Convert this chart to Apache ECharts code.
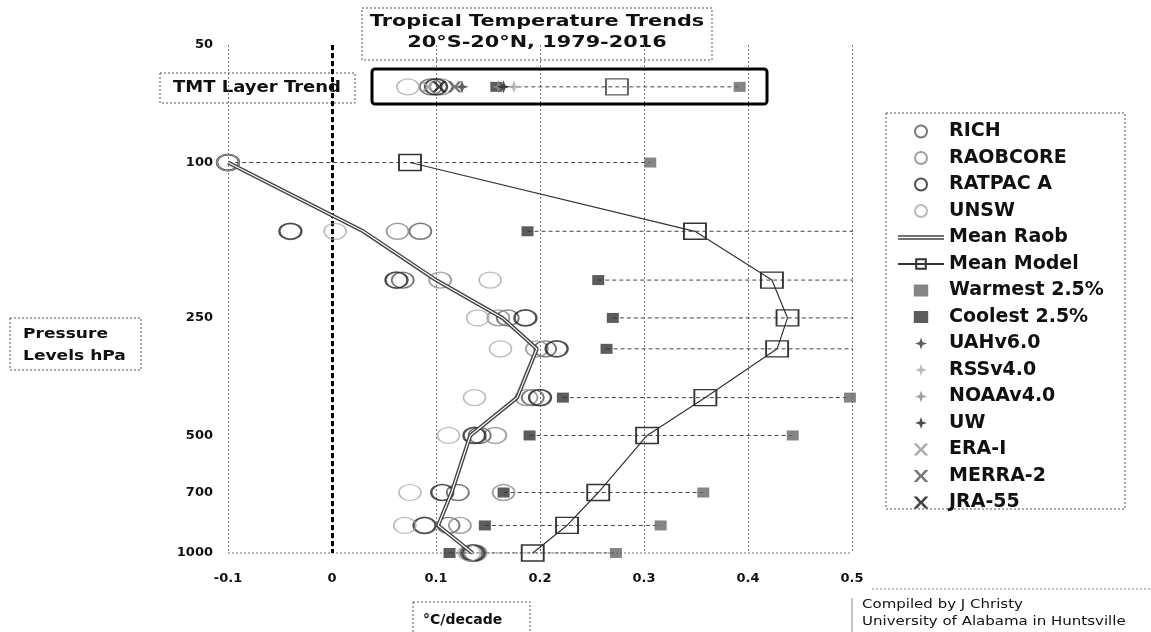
<!DOCTYPE html>
<html><head><meta charset="utf-8">
<script src="https://cdn.jsdelivr.net/npm/echarts@6/dist/echarts.min.js"></script>
<style>html,body{margin:0;padding:0;background:#fff}#c{width:1151px;height:632px}</style>
</head><body><div id="c"></div>
<script>
// ---- data ----
const levels = [100, 150, 200, 250, 300, 400, 500, 700, 850, 1000];
const tmtLevel = 64;
const yTickLabels = [50, 100, 250, 500, 700, 1000];
const rich     = [-0.10, 0.085, 0.068, 0.169, 0.205, 0.193, 0.142, 0.121, 0.112, 0.134];
const raobcore = [-0.10, 0.063, 0.104, 0.160, 0.197, 0.187, 0.157, 0.165, 0.123, 0.138];
const ratpac   = [-0.10, -0.040, 0.062, 0.186, 0.216, 0.200, 0.137, 0.106, 0.089, 0.136];
const unsw     = [-0.10, 0.003, 0.152, 0.140, 0.162, 0.137, 0.112, 0.075, 0.070, 0.132];
const meanRaob  = [-0.10, 0.030, 0.100, 0.164, 0.197, 0.178, 0.133, 0.115, 0.102, 0.135];
const meanModel = [0.075, 0.349, 0.423, 0.438, 0.428, 0.359, 0.303, 0.256, 0.226, 0.193];
const warmest   = [0.306, 0.56, 0.56, 0.56, 0.56, 0.498, 0.443, 0.357, 0.316, 0.273];
const coolest   = [-0.12, 0.188, 0.256, 0.270, 0.264, 0.222, 0.190, 0.165, 0.147, 0.113];
// TMT layer trends
const tmtRich = 0.095, tmtRaobcore = 0.105, tmtRatpac = 0.100, tmtUnsw = 0.073;
const tmtMeanModel = 0.274, tmtWarmest = 0.392, tmtCoolest = 0.158;
const tmtUah = 0.125, tmtRss = 0.175, tmtNoaa = 0.160, tmtUw = 0.165;
const tmtEra = 0.092, tmtMerra = 0.118, tmtJra = 0.103;

const F = 'DejaVu Sans';
const Y = p => Math.log10(p);
const pts = vals => vals.map((v, i) => [v, Y(levels[i])]);
const withTmt = (vals, t) => pts(vals).concat([[t, Y(tmtLevel)]]);
const tmtPt = t => [[t, Y(tmtLevel)]];

const X_PATH = 'path://M0,0 L2.4,0 L5,3 L7.6,0 L10,0 L6.3,4 L10,8 L7.6,8 L5,5 L2.4,8 L0,8 L3.7,4 Z';
const STAR_PATH = 'path://M5,0 L6.3,3.7 L10,5 L6.3,6.3 L5,10 L3.7,6.3 L0,5 L3.7,3.7 Z';
const RECT_PATH = 'path://M0,0 L12,0 L12,10 L0,10 Z';
const DOUBLE_LINE_PATH = 'path://M0,0 L46,0 L46,1.6 L0,1.6 Z M0,3 L46,3 L46,4.6 L0,4.6 Z';

const series = [];
// range dashed lines (coolest to warmest)
levels.forEach((p, i) => {
  series.push({type: 'line', silent: true, symbol: 'none', z: 1,
    data: [[coolest[i], Y(p)], [warmest[i], Y(p)]],
    lineStyle: {color: '#444', width: 1, type: [4, 3]}});
});
series.push({type: 'line', silent: true, symbol: 'none', z: 1,
  data: [[tmtCoolest, Y(tmtLevel)], [tmtWarmest, Y(tmtLevel)]],
  lineStyle: {color: '#444', width: 1, type: [4, 3]}});

const circ = (name, vals, t, col, w) => ({
  name, type: 'scatter', symbol: 'circle', symbolSize: [22, 16], z: 5,
  data: withTmt(vals, t),
  itemStyle: {color: 'rgba(255,255,255,0)', borderColor: col, borderWidth: w}
});
series.push(circ('RICH', rich, tmtRich, '#555', 1.6));
series.push(circ('RAOBCORE', raobcore, tmtRaobcore, '#888', 1.6));
series.push(circ('RATPAC A', ratpac, tmtRatpac, '#222', 2));
series.push(circ('UNSW', unsw, tmtUnsw, '#aaa', 1.4));

series.push({name: 'Mean Raob', type: 'line', symbol: 'none', z: 6, data: pts(meanRaob),
  lineStyle: {color: '#444', width: 4}, itemStyle: {color: '#444'},
  markLine: {silent: true, symbol: ['none', 'none'], label: {show: false}, animation: false,
    lineStyle: {color: '#000', width: 3, type: [5, 3]}, data: [{xAxis: 0}]}});
series.push({name: 'Mean Raob inner', type: 'line', symbol: 'none', z: 7, silent: true, data: pts(meanRaob),
  lineStyle: {color: '#fff', width: 1.2}});

series.push({name: 'Mean Model', type: 'line', symbol: 'rect', symbolSize: [22, 16], showSymbol: true, z: 6,
  data: pts(meanModel),
  lineStyle: {color: '#333', width: 1.2},
  itemStyle: {color: 'rgba(255,255,255,0)', borderColor: '#333', borderWidth: 1.6}});
series.push({name: 'Mean Model TMT', type: 'scatter', symbol: 'rect', symbolSize: [22, 16], z: 6,
  data: tmtPt(tmtMeanModel),
  itemStyle: {color: 'rgba(255,255,255,0)', borderColor: '#333', borderWidth: 1.6}});

series.push({name: 'Warmest 2.5%', type: 'scatter', symbol: 'rect', symbolSize: [12, 10], z: 4,
  data: withTmt(warmest, tmtWarmest), itemStyle: {color: '#666'}});
series.push({name: 'Coolest 2.5%', type: 'scatter', symbol: 'rect', symbolSize: [12, 10], z: 4,
  data: withTmt(coolest, tmtCoolest), itemStyle: {color: '#333'}});

const mk = (name, sym, t, col, size) => ({name, type: 'scatter', symbol: sym, symbolSize: size, z: 8,
  data: tmtPt(t), itemStyle: {color: col}});
series.push(mk('UAHv6.0', STAR_PATH, tmtUah, '#333', 13));
series.push(mk('RSSv4.0', STAR_PATH, tmtRss, '#aaa', 13));
series.push(mk('NOAAv4.0', STAR_PATH, tmtNoaa, '#888', 13));
series.push(mk('UW', STAR_PATH, tmtUw, '#222', 13));
series.push(mk('ERA-I', X_PATH, tmtEra, '#999', [14, 11]));
series.push(mk('MERRA-2', X_PATH, tmtMerra, '#555', [14, 11]));
series.push(mk('JRA-55', X_PATH, tmtJra, '#111', [14, 11]));

const legendNames = ['RICH', 'RAOBCORE', 'RATPAC A', 'UNSW', 'Mean Raob', 'Mean Model', 'Warmest 2.5%',
  'Coolest 2.5%', 'UAHv6.0', 'RSSv4.0', 'NOAAv4.0', 'UW', 'ERA-I', 'MERRA-2', 'JRA-55'];
const legendData = legendNames.map(n => {
  if (n === 'Mean Raob') return {name: n, icon: DOUBLE_LINE_PATH};
  if (n === 'Warmest 2.5%' || n === 'Coolest 2.5%') return {name: n, icon: RECT_PATH};
  return {name: n};
});

const dotted = {stroke: '#555', lineWidth: 1, lineDash: [2, 2]};
const option = {
  animation: false,
  backgroundColor: '#fff',
  grid: {left: 228, right: 299, top: 45, bottom: 79},
  xAxis: {type: 'value', min: -0.1, max: 0.5, interval: 0.1,
    axisLine: {show: false}, axisTick: {show: false},
    axisLabel: {color: '#111', fontFamily: F, fontWeight: 'bold', fontSize: 13, margin: 19},
    splitLine: {show: true, lineStyle: {color: '#777', width: 1, type: [2, 2]}}},
  yAxis: {type: 'value', inverse: true, min: Y(50), max: Y(1000),
    axisLine: {show: false}, axisTick: {show: false},
    splitLine: {show: false},
    axisLabel: {customValues: yTickLabels.map(Y), margin: 15, color: '#111', fontFamily: F, fontWeight: 'bold', fontSize: 13,
      formatter: v => String(Math.round(Math.pow(10, v)))}},
  legend: {data: legendData, orient: 'vertical', left: 892, top: 117, itemWidth: 46, itemHeight: 12, itemGap: 7.5,
    selectedMode: false,
    textStyle: {fontFamily: F, fontWeight: 'bold', fontSize: 19, color: '#111', lineHeight: 19}},
  graphic: [
    {type: 'line', shape: {x1: 228, y1: 553, x2: 852, y2: 553}, style: {stroke: '#777', lineWidth: 1, lineDash: [2, 2]}, z: 0},
    {type: 'rect', shape: {x: 362, y: 8, width: 350, height: 52}, style: Object.assign({fill: '#fff'}, dotted)},
    {type: 'text', x: 537, y: 22, scaleX: 1.3, style: {text: 'Tropical Temperature Trends', align: 'center', verticalAlign: 'middle', font: 'bold 16px "DejaVu Sans"', fill: '#111'}},
    {type: 'text', x: 537, y: 43, scaleX: 1.3, style: {text: '20°S-20°N, 1979-2016', align: 'center', verticalAlign: 'middle', font: 'bold 16px "DejaVu Sans"', fill: '#111'}},
    {type: 'rect', shape: {x: 160, y: 73, width: 195, height: 30}, style: Object.assign({fill: '#fff'}, dotted)},
    {type: 'text', x: 257, y: 88, scaleX: 1.2, style: {text: 'TMT Layer Trend', align: 'center', verticalAlign: 'middle', font: 'bold 15px "DejaVu Sans"', fill: '#111'}},
    {type: 'rect', shape: {x: 372, y: 69, width: 395, height: 35, r: 3}, style: {fill: 'none', stroke: '#000', lineWidth: 3}, z: 10},
    {type: 'rect', shape: {x: 10, y: 318, width: 131, height: 52}, style: Object.assign({fill: '#fff'}, dotted)},
    {type: 'text', x: 23, y: 334, scaleX: 1.22, style: {text: 'Pressure', verticalAlign: 'middle', font: 'bold 14px "DejaVu Sans"', fill: '#111'}},
    {type: 'text', x: 23, y: 356, scaleX: 1.22, style: {text: 'Levels hPa', verticalAlign: 'middle', font: 'bold 14px "DejaVu Sans"', fill: '#111'}},
    {type: 'rect', shape: {x: 413, y: 602, width: 117, height: 40}, style: Object.assign({fill: '#fff'}, dotted)},
    {type: 'text', x: 423, y: 620, style: {text: '°C/decade', verticalAlign: 'middle', font: 'bold 14px "DejaVu Sans"', fill: '#111'}},
    {type: 'rect', shape: {x: 886, y: 113, width: 239, height: 396}, style: Object.assign({fill: 'none'}, dotted)},
    {type: 'line', shape: {x1: 852, y1: 598, x2: 852, y2: 632}, style: {stroke: '#888', lineWidth: 1}},
    {type: 'line', shape: {x1: 872, y1: 589, x2: 1151, y2: 589}, style: {stroke: '#888', lineWidth: 1, lineDash: [2, 2]}},
    {type: 'text', x: 862, y: 605, scaleX: 1.25, style: {text: 'Compiled by J Christy', verticalAlign: 'middle', font: '12px "DejaVu Sans"', fill: '#111'}},
    {type: 'text', x: 862, y: 622, scaleX: 1.25, style: {text: 'University of Alabama in Huntsville', verticalAlign: 'middle', font: '12px "DejaVu Sans"', fill: '#111'}}
  ],
  series
};
const chart = echarts.init(document.getElementById('c'), null, {renderer: 'canvas'});
chart.setOption(option);
</script></body></html>
